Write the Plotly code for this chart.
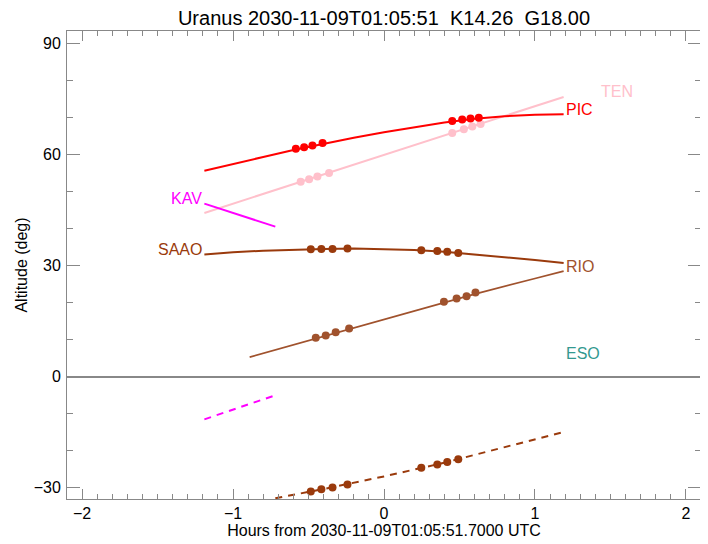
import plotly.graph_objects as go

# ---------------- data ----------------
title_text = "Uranus 2030-11-09T01:05:51\u00a0\u00a0K14.26\u00a0\u00a0G18.00"
xaxis_title = "Hours from 2030-11-09T01:05:51.7000 UTC"
yaxis_title = "Altitude (deg)"

x_ticks = [-2, -1, 0, 1, 2]
y_ticks = [-30, 0, 30, 60, 90]

# PIC
pic_hours = [-1.19, -1.0, -0.8, -0.6, -0.4, -0.2, 0.0, 0.2, 0.4, 0.6, 0.8, 1.0, 1.19]
pic_alt = [55.6, 57.5, 59.3, 61.2, 62.9, 64.5, 66.0, 67.4, 68.6, 69.6, 70.3, 70.7, 70.8]
pic_obs_hours = [-0.584, -0.529, -0.474, -0.407, 0.452, 0.518, 0.573, 0.628]
pic_obs_alt = [61.5, 61.9, 62.4, 63.1, 69.0, 69.4, 69.7, 69.9]

# TEN
ten_hours = [-1.19, -0.8, -0.4, 0.0, 0.4, 0.8, 1.19]
ten_alt = [44.2, 49.3, 54.6, 59.8, 65.1, 70.4, 75.5]
ten_obs_hours = [-0.552, -0.496, -0.441, -0.364, 0.452, 0.529, 0.585, 0.640]
ten_obs_alt = [52.6, 53.3, 54.0, 55.0, 65.8, 66.8, 67.5, 68.2]

# KAV
kav_hours = [-1.19, -0.72]
kav_alt = [46.7, 40.5]
kav_low_hours = [-1.19, -0.72]
kav_low_alt = [-11.5, -5.0]

# SAAO
saao_hours = [-1.19, -1.0, -0.8, -0.6, -0.4, -0.2, 0.0, 0.2, 0.4, 0.6, 0.8, 1.0, 1.19]
saao_alt = [33.0, 33.6, 34.0, 34.3, 34.5, 34.6, 34.5, 34.2, 33.7, 33.0, 32.3, 31.5, 30.7]
saao_obs_hours = [-0.485, -0.415, -0.341, -0.242, 0.247, 0.353, 0.419, 0.492]
saao_obs_alt = [34.4, 34.5, 34.5, 34.6, 34.1, 33.9, 33.7, 33.4]
saao_low_hours = [-0.72, -0.485, -0.4, 0.0, 0.247, 0.4, 0.8, 1.19]
saao_low_alt = [-32.8, -31.0, -30.3, -26.9, -24.6, -23.2, -19.0, -14.9]
saao_low_obs_alt = [-31.0, -30.4, -29.9, -29.1, -24.6, -23.7, -23.0, -22.3]

# RIO
rio_hours = [-0.89, -0.6, -0.2, 0.2, 0.6, 1.0, 1.19]
rio_alt = [5.3, 8.6, 13.1, 17.7, 22.3, 26.5, 28.5]
rio_obs_hours = [-0.452, -0.386, -0.320, -0.231, 0.397, 0.481, 0.547, 0.606]
rio_obs_alt = [10.5, 11.1, 12.0, 13.0, 20.2, 21.1, 21.7, 22.7]

# ESO (label only)
eso_label_hours = 1.19
eso_label_alt = 4.9

# colours
c_pic = "#FF0000"
c_ten = "#FFC0CB"
c_kav = "#FF00FF"
c_saao = "#9A3A0C"
c_rio = "#A0522D"
c_eso = "#339990"

FONT = "Liberation Sans, Arial, Helvetica, sans-serif"

fig = go.Figure()


def line(x, y, color, width=2, dash=None):
    fig.add_trace(go.Scatter(x=x, y=y, mode="lines",
                             line=dict(color=color, width=width, dash=dash),
                             hoverinfo="skip", showlegend=False))


def dots(x, y, color):
    fig.add_trace(go.Scatter(x=x, y=y, mode="markers",
                             marker=dict(color=color, size=8, line=dict(width=0)),
                             hoverinfo="skip", showlegend=False))


line(ten_hours, ten_alt, c_ten)
dots(ten_obs_hours, ten_obs_alt, c_ten)
line(pic_hours, pic_alt, c_pic)
dots(pic_obs_hours, pic_obs_alt, c_pic)
line(kav_hours, kav_alt, c_kav)
line(kav_low_hours, kav_low_alt, c_kav, dash="7px,6px")
line(saao_hours, saao_alt, c_saao)
dots(saao_obs_hours, saao_obs_alt, c_saao)
line(saao_low_hours, saao_low_alt, c_saao, dash="7px,6px")
dots(saao_obs_hours, saao_low_obs_alt, c_saao)
line(rio_hours, rio_alt, c_rio, width=1.7)
dots(rio_obs_hours, rio_obs_alt, c_rio)

LBL = 16
YSH = 5


def label(text, x, y, color, side, xshift=0):
    fig.add_annotation(x=x, y=y, text=text, showarrow=False,
                       xanchor="left" if side == "right" else "right",
                       yanchor="middle", yshift=YSH, xshift=xshift,
                       font=dict(family=FONT, size=LBL, color=color))


label("PIC", pic_hours[-1], pic_alt[-1], c_pic, "right")
label("TEN", ten_hours[-1], ten_alt[-1], c_ten, "right", xshift=35)
label("KAV", kav_hours[0], kav_alt[0], c_kav, "left")
label("SAAO", saao_hours[0], saao_alt[0], c_saao, "left")
label("RIO", rio_hours[-1], rio_alt[-1], c_rio, "right")
label("ESO", eso_label_hours, eso_label_alt, c_eso, "right")

# the page body adds an 8px margin, so the figure is 8px smaller
W, H = 700, 536
axcol = "#888888"
fig.update_layout(
    width=W, height=H,
    margin=dict(l=59, r=7, t=23, b=45, autoexpand=False),
    plot_bgcolor="white", paper_bgcolor="white",
    font=dict(family=FONT, size=16, color="black"),
    title=dict(text=title_text, x=0.5, xref="paper", xanchor="center",
               y=1 - 3 / H, yref="container", yanchor="top", pad=dict(t=0, b=0),
               font=dict(family=FONT, size=20, color="black")),
    showlegend=False,
)
fig.update_xaxes(
    range=[-2.1, 2.1], tickvals=x_ticks, ticks="inside", ticklen=10, tickwidth=1,
    tickcolor=axcol, showline=True, linecolor=axcol, linewidth=1, mirror="ticks",
    showgrid=False, zeroline=False,
    minor=dict(ticks="inside", dtick=0.1, ticklen=5, tickcolor=axcol, showgrid=False),
    title=dict(text=xaxis_title, font=dict(family=FONT, size=16), standoff=1),
    tickfont=dict(family=FONT, size=16),
)
fig.update_yaxes(
    range=[-33, 93.3], tickvals=y_ticks, ticks="inside", ticklen=13, tickwidth=1,
    tickcolor=axcol, showline=True, linecolor=axcol, linewidth=1, mirror="ticks",
    showgrid=False, zeroline=True, zerolinecolor=axcol, zerolinewidth=1.5,
    minor=dict(ticks="inside", dtick=10, ticklen=6, tickcolor=axcol, showgrid=False),
    title=dict(text=yaxis_title, font=dict(family=FONT, size=16), standoff=2),
    tickfont=dict(family=FONT, size=16), ticklabelstandoff=2,
)

fig.write_html("out.html")
